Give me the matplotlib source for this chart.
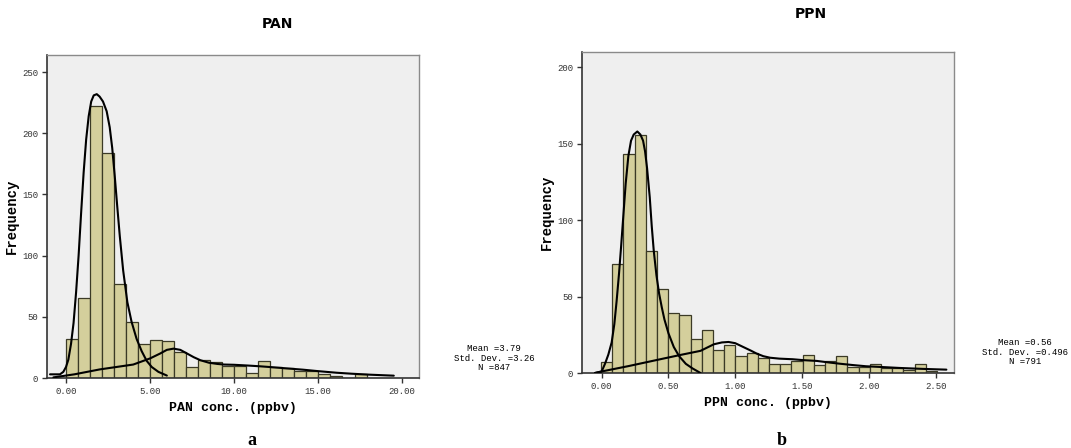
"""
PAN / PPN concentration histograms with fitted curves (SPSS style)
"""
import numpy as np
import matplotlib
matplotlib.use('Agg')
import matplotlib.pyplot as plt

# 直方图计数 (PAN)
pan_counts = [32, 65, 222, 184, 77, 46, 28, 31, 30, 21, 9, 15, 13,
              10, 10, 4, 14, 9, 8, 6, 6, 3, 2, 0, 3]
pan_bin_width = 0.716
pan_bin_start = -0.02

# 直方图计数 (PPN)
ppn_counts = [7, 71, 143, 156, 80, 55, 39, 38, 22, 28, 15, 18, 11, 13, 10,
              6, 6, 8, 12, 5, 8, 11, 4, 4, 6, 3, 3, 2, 6, 1]
ppn_bin_width = 0.0838
ppn_bin_start = -0.005

# 拟合曲线
pan_c1_x = [-0.95, -0.6, -0.36, -0.16, 0.0, 0.14, 0.3, 0.45, 0.6, 0.75, 0.9,
            1.05, 1.2, 1.35, 1.5, 1.65, 1.83, 2.0, 2.2, 2.42, 2.6, 2.75,
            2.9, 3.05, 3.2, 3.4, 3.65, 3.9, 4.2, 4.5, 4.8, 5.1, 5.5, 6.0]
pan_c1_y = [3, 3, 3, 5, 9, 15, 28, 45, 70, 100, 135, 168, 195, 214, 226,
            231, 232, 230, 226, 218, 205, 188, 165, 140, 116, 88, 62, 46,
            32, 22, 14, 9, 5, 2]
pan_c2_x = [-0.75, 0.5, 2.0, 3.0, 4.0, 5.0, 5.6, 6.0, 6.4, 6.8, 7.2, 7.6,
            8.0, 8.5, 9.0, 9.4, 10.0, 10.8, 11.5, 12.1, 13.0, 14.1, 15.0,
            16.1, 17.0, 18.1, 19.5]
pan_c2_y = [0.5, 3, 7, 9, 11, 16, 20, 23, 24, 23, 20, 17, 14.5, 12.5, 11.5,
            11, 10.8, 10.2, 9.6, 9, 8, 6.8, 5.6, 4.3, 3.5, 2.7, 1.9]

ppn_c1_x = [-0.05, 0.0, 0.025, 0.05, 0.075, 0.095, 0.112, 0.13, 0.145,
            0.16, 0.18, 0.2, 0.22, 0.24, 0.267, 0.29, 0.31, 0.325, 0.34,
            0.36, 0.375, 0.39, 0.41, 0.43, 0.45, 0.47, 0.5, 0.54, 0.58,
            0.63, 0.68, 0.74]
ppn_c1_y = [0, 1, 6, 12, 20, 32, 47, 65, 82, 100, 124, 142, 152, 156, 158,
            156, 152, 145, 134, 115, 96, 80, 64, 52, 43, 35, 26, 17, 11, 6,
            3, 0]
ppn_c2_x = [-0.05, 0.0, 0.2, 0.46, 0.6, 0.74, 0.84, 0.9, 0.95, 1.0, 1.06,
            1.12, 1.16, 1.21, 1.26, 1.33, 1.43, 1.51, 1.61, 1.71, 1.78, 1.88,
            1.98, 2.1, 2.23, 2.4, 2.58]
ppn_c2_y = [0, 1, 4.5, 9.4, 12, 14.5, 18.8, 20, 20.3, 19.5, 17, 14.5, 12.7,
            11, 10, 9.4, 9, 8.4, 7.9, 6.8, 6.1, 5.2, 4.4, 3.9, 3.3, 2.7, 2.2]

pan_stats = "Mean =3.79\nStd. Dev. =3.26\nN =847"
ppn_stats = "Mean =0.56\nStd. Dev. =0.496\nN =791"

BAR_COLOR = '#d4cf9c'
EDGE_COLOR = '#3b3a26'
BG_COLOR = '#efefef'
MONO = ['Liberation Mono', 'DejaVu Sans Mono']


def draw_panel(ax, counts, start, width, curves, xticks, xtick_fmt,
               xlim, ylim, yticks, xlabel):
    """绘制一个面板"""
    counts = np.array(counts)
    lefts = start + width * np.arange(len(counts))
    ax.set_facecolor(BG_COLOR)
    ax.bar(lefts, counts, width=width, align='edge', color=BAR_COLOR,
           edgecolor=EDGE_COLOR, linewidth=0.9, zorder=2)
    for cx, cy in curves:
        ax.plot(cx, cy, color='black', linewidth=1.5, zorder=3,
                solid_capstyle='round', solid_joinstyle='round')
    ax.set_xlim(*xlim)
    ax.set_ylim(*ylim)
    ax.set_xticks(xticks)
    ax.set_xticklabels([xtick_fmt.format(v) for v in xticks],
                       family=MONO, fontsize=6.5, color='#333333')
    ax.set_yticks(yticks)
    ax.set_yticklabels([str(v) for v in yticks], family=MONO,
                       fontsize=6.5, color='#333333')
    ax.tick_params(direction='out', length=3.5, width=1, color='#333333',
                   pad=3)
    for side in ['top', 'right']:
        ax.spines[side].set_color('#8a8a8a')
        ax.spines[side].set_linewidth(1)
    for side in ['left', 'bottom']:
        ax.spines[side].set_color('#333333')
        ax.spines[side].set_linewidth(1.2)
    ax.set_xlabel(xlabel, family=MONO, fontweight='bold', fontsize=9.5,
                  labelpad=4)
    ax.set_ylabel('Frequency', family=MONO, fontweight='bold', fontsize=10,
                  labelpad=2)


def main():
    fig = plt.figure(figsize=(10.71, 4.48), dpi=100)
    fig.patch.set_facecolor('white')

    ax1 = fig.add_axes([47 / 1071, 1 - 378 / 448, 372 / 1071, 323 / 448])
    ax2 = fig.add_axes([582 / 1071, 1 - 373 / 448, 372 / 1071, 321 / 448])

    draw_panel(ax1, pan_counts, pan_bin_start, pan_bin_width,
               [(pan_c1_x, pan_c1_y), (pan_c2_x, pan_c2_y)],
               [0, 5, 10, 15, 20], '{:.2f}', (-1.13, 21.0), (0, 264),
               [0, 50, 100, 150, 200, 250], 'PAN conc. (ppbv)')
    draw_panel(ax2, ppn_counts, ppn_bin_start, ppn_bin_width,
               [(ppn_c1_x, ppn_c1_y), (ppn_c2_x, ppn_c2_y)],
               [0, 0.5, 1.0, 1.5, 2.0, 2.5], '{:.2f}', (-0.147, 2.637),
               (0, 210), [0, 50, 100, 150, 200], 'PPN conc. (ppbv)')

    title_font = ['Liberation Sans Narrow', 'DejaVu Sans']
    fig.text(277 / 1071, 1 - 24 / 448, 'PAN', ha='center', va='center',
             family=title_font, fontweight='bold', fontsize=10)
    fig.text(811 / 1071, 1 - 14 / 448, 'PPN', ha='center', va='center',
             family=title_font, fontweight='bold', fontsize=10)

    fig.text(494 / 1071, 1 - 358 / 448, pan_stats, ha='center',
             va='center', family=MONO, fontsize=6.5, linespacing=1.05)
    fig.text(1025 / 1071, 1 - 352 / 448, ppn_stats, ha='center',
             va='center', family=MONO, fontsize=6.5, linespacing=1.05)

    fig.text(252 / 1071, 1 - 440 / 448, 'a', ha='center', va='center',
             family=['Liberation Serif', 'DejaVu Serif'], fontweight='bold',
             fontsize=13)
    fig.text(782 / 1071, 1 - 440 / 448, 'b', ha='center', va='center',
             family=['Liberation Serif', 'DejaVu Serif'], fontweight='bold',
             fontsize=13)

    plt.savefig('out.png', dpi=100)
    plt.close(fig)


if __name__ == "__main__":
    main()
